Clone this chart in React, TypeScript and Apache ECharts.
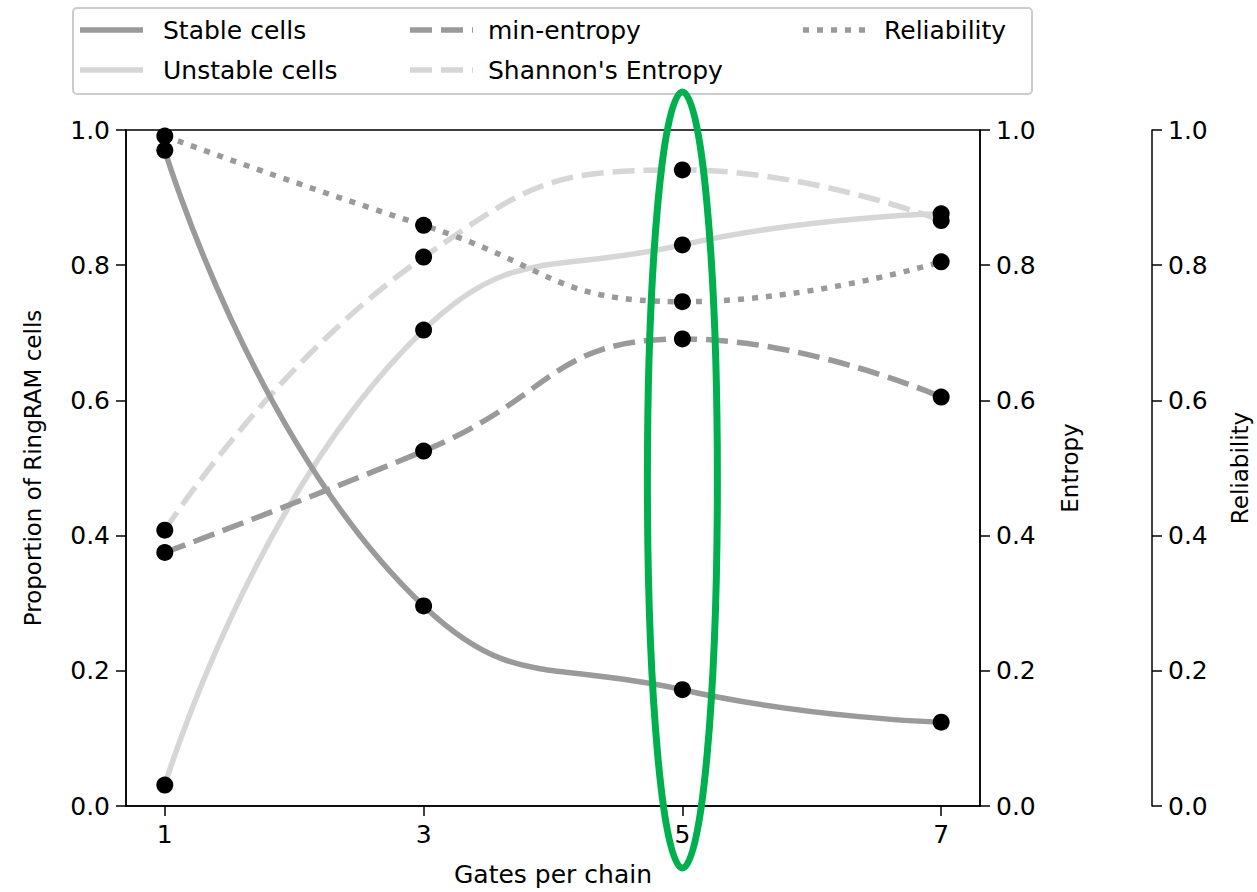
import React, { useEffect, useRef } from "react";
import * as echarts from "echarts";

const gates = [1, 3, 5, 7];
const stableCells = [0.97, 0.296, 0.172, 0.124];
const unstableCells = [0.031, 0.704, 0.83, 0.876];
const minEntropy = [0.375, 0.525, 0.691, 0.605];
const shannonEntropy = [0.408, 0.812, 0.941, 0.866];
const reliability = [0.991, 0.859, 0.746, 0.805];
const yTicks = [0, 0.2, 0.4, 0.6, 0.8, 1.0];
const highlightGate = 5;
const legendNames = ["Stable cells", "Unstable cells", "min-entropy", "Shannon's Entropy", "Reliability"];

const FONT = "DejaVu Sans";
const FS = 25;
const DARK = "#9a9a9a";
const LIGHT = "#d6d6d6";
const DASH = [22, 9];
const DOT = [6, 8];

const pts = (ys: number[]) => gates.map((g, i) => [g, ys[i]]);

export default function App() {
  const ref = useRef<HTMLDivElement>(null);
  useEffect(() => {
    if (!ref.current) return;
    const chart = echarts.init(ref.current, undefined, { renderer: "svg" });
    const yAxisBase = (pos: "left" | "right", name: string, offset: number, nameGap: number) => ({
      type: "value",
      position: pos,
      offset,
      min: 0,
      max: 1,
      interval: 0.2,
      name,
      nameLocation: "middle",
      nameGap,
      nameRotate: 90,
      nameTextStyle: { fontFamily: FONT, fontSize: FS * 0.92, color: "#000" },
      axisLine: { show: true, lineStyle: { color: "#000", width: 1.5 } },
      axisTick: { show: true, inside: false, length: 10, lineStyle: { color: "#000", width: 1.5 } },
      axisLabel: {
        show: true,
        margin: 16,
        fontFamily: FONT,
        fontSize: FS,
        color: "#000",
        formatter: (v: number) => v.toFixed(1),
        customValues: yTicks,
      },
      splitLine: { show: false },
    });
    const lineSeries = (name: string, data: number[], color: string, type: any, yAxisIndex: number, z: number) => ({
      name,
      type: "line",
      data: pts(data),
      yAxisIndex,
      smooth: 0.5,
      symbol: "none",
      z,
      lineStyle: { color, width: 5.5, type, cap: "butt" },
      itemStyle: { color },
    });
    const dotSeries = (name: string, data: number[], yAxisIndex: number) => ({
      name,
      type: "scatter",
      data: pts(data),
      yAxisIndex,
      symbol: "circle",
      symbolSize: 17,
      z: 10,
      itemStyle: { color: "#000", opacity: 1 },
    });
    const legendSpec = [
      { name: legendNames[0], x: 80, y: 30, color: DARK, dash: null as any },
      { name: legendNames[1], x: 80, y: 70, color: LIGHT, dash: null as any },
      { name: legendNames[2], x: 410, y: 30, color: DARK, dash: DASH },
      { name: legendNames[3], x: 410, y: 70, color: LIGHT, dash: DASH },
      { name: legendNames[4], x: 803, y: 30, color: DARK, dash: DOT },
    ];
    const legendGraphics: any[] = [];
    legendSpec.forEach((l) => {
      legendGraphics.push({
        type: "line",
        shape: { x1: l.x, y1: l.y, x2: l.x + 63, y2: l.y },
        style: { stroke: l.color, lineWidth: 5.5, lineDash: l.dash || undefined, lineCap: "butt" },
        z: 5,
        silent: true,
      });
      legendGraphics.push({
        type: "text",
        x: l.x + (l.x === 803 ? 81 : l.x === 410 ? 78 : 83),
        y: l.y,
        style: { text: l.name, fontFamily: FONT, fontSize: FS, fill: "#000", verticalAlign: "middle", align: "left" },
        z: 5,
        silent: true,
      });
    });
    const option: any = {
      animation: false,
      backgroundColor: "#fff",
      grid: { left: 126, right: 277, top: 130, bottom: 86, containLabel: false, outerBoundsMode: "none", show: true, borderColor: "#000", borderWidth: 1.5, backgroundColor: "transparent" },
      xAxis: {
        type: "value",
        min: 0.7,
        max: 7.3,
        name: "Gates per chain",
        nameLocation: "middle",
        nameGap: 56,
        nameTextStyle: { fontFamily: FONT, fontSize: FS, color: "#000" },
        axisLine: { show: true, onZero: false, lineStyle: { color: "#000", width: 1.5 } },
        axisTick: { show: true, inside: false, length: 10, customValues: gates, lineStyle: { color: "#000", width: 1.5 } },
        axisLabel: { show: true, margin: 16, fontFamily: FONT, fontSize: FS, color: "#000", customValues: gates },
        splitLine: { show: false },
      },
      yAxis: [
        yAxisBase("left", "Proportion of RingRAM cells", 0, 82),
        yAxisBase("right", "Entropy", 0, 78),
        yAxisBase("right", "Reliability", 172, 76),
      ],
      series: [
        lineSeries(legendNames[0], stableCells, DARK, "solid", 0, 3),
        lineSeries(legendNames[1], unstableCells, LIGHT, "solid", 0, 2),
        lineSeries(legendNames[2], minEntropy, DARK, DASH, 1, 3),
        lineSeries(legendNames[3], shannonEntropy, LIGHT, DASH, 1, 2),
        lineSeries(legendNames[4], reliability, DARK, DOT, 2, 3),
        dotSeries("stable-pts", stableCells, 0),
        dotSeries("unstable-pts", unstableCells, 0),
        dotSeries("minent-pts", minEntropy, 1),
        dotSeries("shannon-pts", shannonEntropy, 1),
        dotSeries("rel-pts", reliability, 2),
      ],
    };
    chart.setOption(option);
    const cx = chart.convertToPixel({ xAxisIndex: 0 }, highlightGate) as number;
    chart.setOption({
      graphic: [
        {
          type: "rect",
          shape: { x: 73, y: 8, width: 959, height: 86, r: 4 },
          style: { fill: "#fff", stroke: "#cccccc", lineWidth: 2 },
          z: 4,
          silent: true,
        },
        ...legendGraphics,
        {
          type: "ellipse",
          shape: { cx, cy: 480, rx: 35, ry: 388 },
          style: { fill: "none", stroke: "#00b04f", lineWidth: 7 },
          z: 100,
          silent: true,
        },
      ],
    });
    return () => chart.dispose();
  }, []);
  return <div ref={ref} style={{ position: "absolute", left: 0, top: 0, width: 1257, height: 892 }} />;
}
